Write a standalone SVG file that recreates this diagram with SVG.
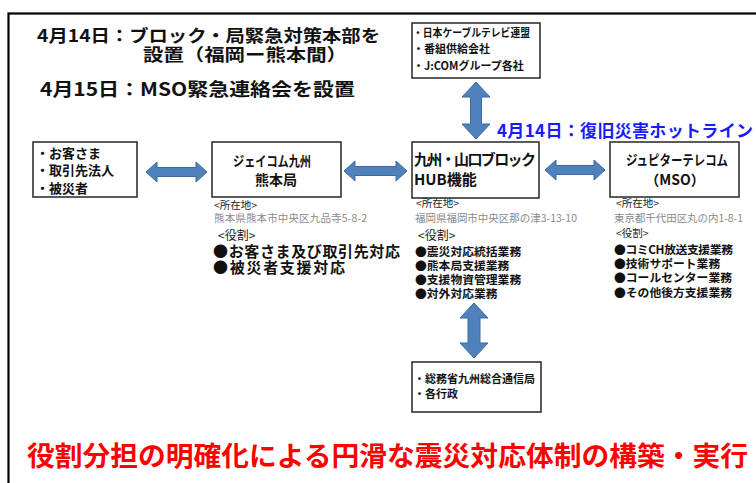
<svg xmlns="http://www.w3.org/2000/svg" width="756" height="483" viewBox="0 0 756 483">
<style>
text{font-family:"Noto Sans CJK JP","Noto Sans",sans-serif;font-weight:bold;fill:#111}
.box{fill:#fff;stroke:#333;stroke-width:1.6}
.arr{fill:#4f81bd;stroke:#3a6a9e;stroke-width:1}
.t17{font-size:17px}
.t14{font-size:14px}
.t13{font-size:13px}
.t11{font-size:11px}
.t12{font-size:11.8px}
.lbl{font-size:10.5px;font-weight:normal;fill:#222}
.addr{font-size:10.5px;font-weight:normal;fill:#8a8a8a}
.big{font-size:15px}
.c{text-anchor:middle}
</style>
<rect x="8.5" y="13.5" width="760" height="480" fill="none" stroke="#000" stroke-width="2.2"/>
<g id="title">
<text class="t17" x="37" y="42" textLength="343" lengthAdjust="spacingAndGlyphs">4月14日：ブロック・局緊急対策本部を</text>
<text class="t17" x="143" y="61" textLength="204" lengthAdjust="spacingAndGlyphs">設置（福岡ー熊本間）</text>
<text x="40" y="96" font-size="18" textLength="315" lengthAdjust="spacingAndGlyphs">4月15日：MSO緊急連絡会を設置</text>
</g>
<g id="connectors">
<path class="arr" d="M146,172 L157,162 L157,167.5 L196,167.5 L196,162 L207,172 L196,182 L196,176.5 L157,176.5 L157,182 Z"/>
<path class="arr" d="M344,171 L355,161 L355,166.5 L396,166.5 L396,161 L407,171 L396,181 L396,175.5 L355,175.5 L355,181 Z"/>
<path class="arr" d="M545,170 L556,160 L556,165.5 L594,165.5 L594,160 L605,170 L594,180 L594,174.5 L556,174.5 L556,180 Z"/>
<path class="arr" d="M476,82 L490,97 L481.5,97 L481.5,124 L490,124 L476,139 L462,124 L470.5,124 L470.5,97 L462,97 Z"/>
<path class="arr" d="M474,303 L488,318 L480,318 L480,343 L488,343 L474,358 L460,343 L468,343 L468,318 L460,318 Z"/>
</g>
<text x="497" y="137" font-size="17" style="fill:#1a1aff" textLength="256">4月14日：復旧災害ホットライン</text>
<g id="customers">
<rect class="box" x="33" y="142" width="104" height="55"/>
<text class="t13" x="36" y="158">・お客さま</text>
<text class="t13" x="36" y="175">・取引先法人</text>
<text class="t13" x="36" y="193">・被災者</text>
</g>
<g id="kumamoto">
<rect class="box" x="212" y="142" width="129" height="55"/>
<text class="t14 c" x="272" y="166" textLength="78" lengthAdjust="spacingAndGlyphs">ジェイコム九州</text>
<text class="t14 c" x="276" y="185" font-size="15">熊本局</text>
<text class="lbl" x="214" y="209">&lt;所在地&gt;</text>
<text class="addr" x="214" y="222" textLength="153">熊本県熊本市中央区九品寺5-8-2</text>
<text class="lbl" x="218" y="240" style="font-size:12px">&lt;役割&gt;</text>
<text class="big" x="213" y="257" textLength="187">●お客さま及び取引先対応</text>
<text class="big" x="213" y="273" textLength="132">●被災者支援対応</text>
</g>
<g id="hub">
<rect class="box" x="412" y="142" width="127" height="56"/>
<text x="414" y="165" font-size="15" textLength="122">九州・山口ブロック</text>
<text x="414" y="185" font-size="15">HUB機能</text>
<text class="lbl" x="416" y="207">&lt;所在地&gt;</text>
<text class="addr" x="415" y="222" textLength="162">福岡県福岡市中央区那の津3-13-10</text>
<text class="lbl" x="418" y="240" style="font-size:12px">&lt;役割&gt;</text>
<text class="t12" x="415" y="256">●震災対応統括業務</text>
<text class="t12" x="415" y="270">●熊本局支援業務</text>
<text class="t12" x="415" y="284">●支援物資管理業務</text>
<text class="t12" x="415" y="298">●対外対応業務</text>
</g>
<g id="jupiter">
<rect class="box" x="610" y="142" width="129" height="55"/>
<text class="t14 c" x="677" y="165" textLength="102" lengthAdjust="spacingAndGlyphs">ジュピターテレコム</text>
<text class="t14 c" x="675" y="185">（MSO）</text>
<text class="lbl" x="616" y="207">&lt;所在地&gt;</text>
<text class="addr" x="614" y="222" textLength="129">東京都千代田区丸の内1-8-1</text>
<text class="lbl" x="616" y="237">&lt;役割&gt;</text>
<text class="t12" x="614" y="254" textLength="119">●コミCH放送支援業務</text>
<text class="t12" x="614" y="268">●技術サポート業務</text>
<text class="t12" x="614" y="282">●コールセンター業務</text>
<text class="t12" x="614" y="297">●その他後方支援業務</text>
</g>
<g id="cable">
<rect class="box" x="412" y="23" width="128" height="55"/>
<text class="t11" x="413" y="37" textLength="117" lengthAdjust="spacingAndGlyphs">・日本ケーブルテレビ連盟</text>
<text class="t11" x="413" y="53">・番組供給会社</text>
<text class="t11" x="413" y="70">・J:COMグループ各社</text>
</g>
<g id="government">
<rect class="box" x="412" y="362" width="129" height="50"/>
<text class="t11" x="414" y="383">・総務省九州総合通信局</text>
<text class="t11" x="414" y="398">・各行政</text>
</g>
<text x="27" y="466" font-size="27" style="fill:#ff0000" textLength="721" lengthAdjust="spacingAndGlyphs">役割分担の明確化による円滑な震災対応体制の構築・実行</text>
</svg>
